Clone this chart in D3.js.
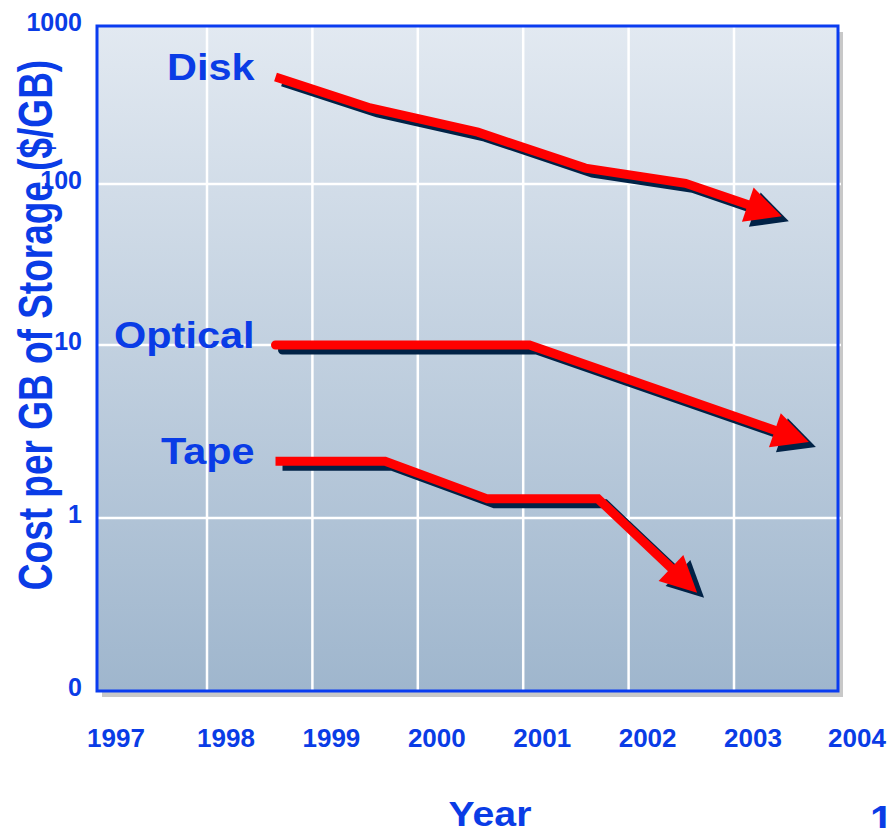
<!DOCTYPE html>
<html>
<head>
<meta charset="utf-8">
<script src="https://cdn.jsdelivr.net/npm/d3@7"></script>
<style>
  html, body { margin: 0; padding: 0; background: #ffffff; }
  svg { display: block; }
  text { font-family: "Liberation Sans", Arial, Helvetica, sans-serif; font-weight: bold; }
</style>
</head>
<body>
<svg id="chart" width="888" height="828"></svg>
<script>
// ---------- data ----------
const yearTicks = [1997, 1998, 1999, 2000, 2001, 2002, 2003, 2004];
const gridYears = [1998, 1999, 2000, 2001, 2002, 2003];
const costTicks = [1000, 100, 10, 1, 0.1];
const costTickLabels = ["1000", "100", "10", "1", "0"];
const gridCosts = [100, 10, 1];

const seriesNames = ["Disk", "Optical", "Tape"];
const diskYears   = [1998.65, 1999.55, 2000.57, 2001.59, 2002.54, 2003.46];
const diskCost    = [475, 303, 213, 126, 101, 63];
const opticalYears = [1998.65, 2001.06, 2003.72];
const opticalCost  = [10, 10, 2.75];
const tapeYears   = [1998.65, 1999.69, 2000.66, 2001.71, 2002.65];
const tapeCost    = [2.13, 2.13, 1.29, 1.29, 0.37];

const xTitle = "Year";
const yTitle = "Cost per GB of Storage ($/GB)";
const pageNumber = "1";

// ---------- scales ----------
const x = d3.scaleLinear().domain([1997, 1998, 2003, 2004]).range([97, 207, 734, 838]);
const y = d3.scaleLog().domain([0.1, 1, 10, 100, 1000]).range([691, 518, 345, 184, 26]);

const BLUE = "#0a3ce6";
const svg = d3.select("#chart");

const defs = svg.append("defs");
const grad = defs.append("linearGradient").attr("id", "bg").attr("x1", 0).attr("y1", 0).attr("x2", 0).attr("y2", 1);
grad.append("stop").attr("offset", "0%").attr("stop-color", "#e2e9f1");
grad.append("stop").attr("offset", "100%").attr("stop-color", "#9fb6cd");

const px0 = x(1997), px1 = x(2004), py0 = y(1000), py1 = y(0.1);

// shadow of plot area
svg.append("rect").attr("x", px0 + 5).attr("y", py0 + 6)
  .attr("width", px1 - px0).attr("height", py1 - py0).attr("fill", "#c8c8c8");
// plot background
svg.append("rect").attr("x", px0).attr("y", py0)
  .attr("width", px1 - px0).attr("height", py1 - py0).attr("fill", "url(#bg)");

// gridlines
svg.append("g").selectAll("line").data(gridYears).join("line")
  .attr("x1", d => x(d)).attr("x2", d => x(d)).attr("y1", py0).attr("y2", py1)
  .attr("stroke", "#ffffff").attr("stroke-width", 2.5);
svg.append("g").selectAll("line").data(gridCosts).join("line")
  .attr("x1", px0).attr("x2", px1 + 3).attr("y1", d => y(d)).attr("y2", d => y(d))
  .attr("stroke", "#ffffff").attr("stroke-width", 2.5);

// border
svg.append("rect").attr("x", px0).attr("y", py0)
  .attr("width", px1 - px0).attr("height", py1 - py0)
  .attr("fill", "none").attr("stroke", "#0a3cf0").attr("stroke-width", 3);

// ---------- axes labels ----------
svg.append("text").attr("transform", "translate(52,325) scale(1.3,1) rotate(-90)")
  .attr("text-anchor", "middle").attr("font-size", 37).attr("fill", BLUE).text(yTitle);

svg.append("g").selectAll("text").data(yearTicks).join("text")
  .attr("x", d => x(d) + 19).attr("y", 747)
  .attr("text-anchor", "middle").attr("font-size", 26).attr("fill", BLUE)
  .text(d => d);

svg.append("g").selectAll("text").data(costTicks).join("text")
  .attr("x", 82).attr("y", d => y(d)).attr("dy", -4)
  .attr("dominant-baseline", "central")
  .attr("text-anchor", "end").attr("font-size", 25).attr("fill", BLUE)
  .text((d, i) => costTickLabels[i]);

svg.append("text").attr("transform", "translate(490,826) scale(1.12,1)")
  .attr("text-anchor", "middle").attr("font-size", 35).attr("fill", BLUE).text(xTitle);

svg.append("text").attr("transform", "translate(870,833) scale(1.1,1)")
  .attr("text-anchor", "start").attr("font-size", 38).attr("fill", BLUE).text(pageNumber);

// ---------- series ----------
const series = [
  { name: seriesNames[0], xs: diskYears, ys: diskCost, cap: "butt" },
  { name: seriesNames[1], xs: opticalYears, ys: opticalCost, cap: "round" },
  { name: seriesNames[2], xs: tapeYears, ys: tapeCost, cap: "butt" }
];

const HEAD_LEN = 36, HEAD_HALF = 18, SH_DX = 7, SH_DY = 5, LW = 9;
const lineGen = d3.line().curve(d3.curveLinear);

series.forEach(s => {
  const pts = s.xs.map((v, i) => [x(v), y(s.ys[i])]);
  const n = pts.length;
  const tip = pts[n - 1], prev = pts[n - 2];
  const dx = tip[0] - prev[0], dy = tip[1] - prev[1];
  const len = Math.hypot(dx, dy);
  const ux = dx / len, uy = dy / len, nx = -uy, ny = ux;
  const bx = tip[0] - HEAD_LEN * ux, by = tip[1] - HEAD_LEN * uy;
  const head = [tip, [bx + HEAD_HALF * nx, by + HEAD_HALF * ny], [bx - HEAD_HALF * nx, by - HEAD_HALF * ny]];
  const linePts = pts.slice(0, n - 1).concat([[tip[0] - (HEAD_LEN - 6) * ux, tip[1] - (HEAD_LEN - 6) * uy]]);

  const g = svg.append("g");
  const sh = g.append("g").attr("transform", `translate(${SH_DX},${SH_DY})`);
  sh.append("path").attr("d", lineGen(linePts)).attr("fill", "none")
    .attr("stroke", "#012246").attr("stroke-width", LW).attr("stroke-linejoin", "miter")
    .attr("stroke-linecap", s.cap);
  sh.append("path").attr("d", "M" + head.map(p => p.join(",")).join("L") + "Z").attr("fill", "#012246");

  g.append("path").attr("d", lineGen(linePts)).attr("fill", "none")
    .attr("stroke", "#ff0000").attr("stroke-width", LW).attr("stroke-linejoin", "miter")
    .attr("stroke-linecap", s.cap);
  g.append("path").attr("d", "M" + head.map(p => p.join(",")).join("L") + "Z").attr("fill", "#ff0000");

  svg.append("text").attr("transform", `translate(${pts[0][0] - 21},${pts[0][1] + 3}) scale(1.12,1)`)
    .attr("text-anchor", "end").attr("font-size", 37).attr("fill", BLUE).text(s.name);
});
</script>
</body>
</html>
